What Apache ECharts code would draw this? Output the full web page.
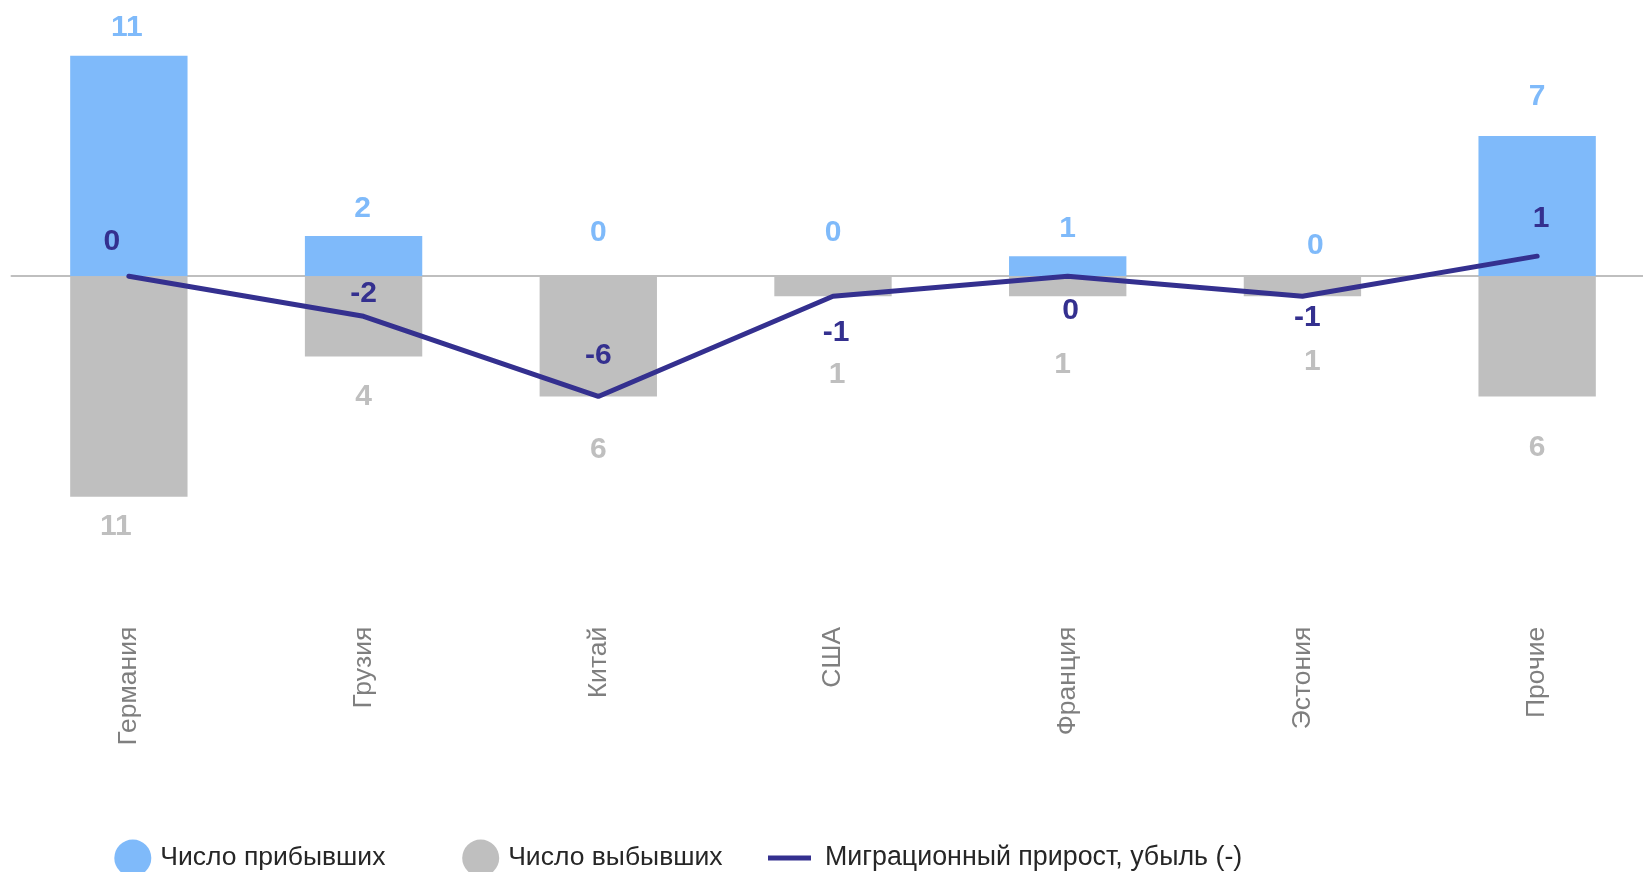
<!DOCTYPE html>
<html><head><meta charset="utf-8">
<script src="https://cdn.jsdelivr.net/npm/echarts@6/dist/echarts.min.js"></script>
<style>html,body{margin:0;padding:0;background:#fff}#c{width:1643px;height:872px}</style>
</head><body><div id="c"></div>
<script>
// ---- data ----
const categories = ['Германия','Грузия','Китай','США','Франция','Эстония','Прочие'];
const arrivals = [11, 2, 0, 0, 1, 0, 7];
const departures = [11, 4, 6, 1, 1, 1, 6];
const netMigration = [0, -2, -6, -1, 0, -1, 1];
const seriesNames = ['Число прибывших', 'Число выбывших', 'Миграционный прирост, убыль (-)'];

// ---- label placement (style only): [distance, dx] ----
const arrLabelPlace = [[13,-2],[12,-1],[28,0],[28,0],[12,0],[15,13],[24,0]];
const depLabelPlace = [[15,-13],[25,0],[38,0],[63,4],[53,-5],[50,10],[36,0]];
const netLabelPlace = [['top',18,-17],['top',7,0],['top',25,0],['bottom',20,3],['bottom',19,3],['bottom',5,5],['top',21,4]];

const FONT = '"Liberation Sans", Arial, sans-serif';
const BLUE = '#7fbafa', GRAY = '#bfbfbf', NAVY = '#34308f';

const chart = echarts.init(document.getElementById('c'), null, {renderer: 'canvas'});
const labelBase = {show: true, fontFamily: FONT, fontSize: 30, fontWeight: 'bold'};
const legendText = {fontFamily: FONT, fontSize: 26.5, color: '#262626', padding: [0,0,0,4]};
const legendText3 = Object.assign({}, legendText, {fontSize: 26.8, padding: [0,0,0,9]});

chart.setOption({
  animation: false,
  backgroundColor: '#ffffff',
  grid: {left: 11.5, right: -11.5, top: 55.7, bottom: 375.3, containLabel: false, outerBoundsMode: 'none'},
  xAxis: {
    type: 'category', data: categories,
    axisLine: {show: true, onZero: true, lineStyle: {color: GRAY, width: 2}},
    axisTick: {show: false},
    axisLabel: {rotate: 90, margin: 130, fontFamily: FONT, fontSize: 26.5, color: '#7f7f7f'}
  },
  yAxis: {type: 'value', min: -11, max: 11, show: false, splitLine: {show: false}},
  legend: [
    {data: [{name: seriesNames[0], icon: 'circle'}], left: 109.3, top: 834.5, itemWidth: 37, itemHeight: 37, textStyle: legendText},
    {data: [{name: seriesNames[1], icon: 'circle'}], left: 457.2, top: 834.5, itemWidth: 37, itemHeight: 37, textStyle: legendText},
    {data: [{name: seriesNames[2], icon: 'rect'}], left: 763, top: 839.5, itemWidth: 43, itemHeight: 5, textStyle: legendText3}
  ],
  series: [
    {
      name: seriesNames[0], type: 'bar', stack: 'mig', barWidth: '50%',
      itemStyle: {color: BLUE},
      data: arrivals.map((v, i) => ({
        value: v,
        label: Object.assign({}, labelBase, {position: 'top', distance: arrLabelPlace[i][0],
          offset: [arrLabelPlace[i][1], 0], color: BLUE, formatter: String(v)})
      }))
    },
    {
      name: seriesNames[1], type: 'bar', stack: 'mig', barWidth: '50%',
      itemStyle: {color: GRAY},
      data: departures.map((v, i) => ({
        value: -v,
        label: Object.assign({}, labelBase, {position: 'bottom', distance: depLabelPlace[i][0],
          offset: [depLabelPlace[i][1], 0], color: GRAY, formatter: String(v)})
      }))
    },
    {
      name: seriesNames[2], type: 'line', z: 5,
      symbol: 'circle', symbolSize: 2, showSymbol: true,
      itemStyle: {color: NAVY},
      lineStyle: {color: NAVY, width: 5, cap: 'round'},
      data: netMigration.map((v, i) => ({
        value: v,
        label: Object.assign({}, labelBase, {position: netLabelPlace[i][0], distance: netLabelPlace[i][1],
          offset: [netLabelPlace[i][2], 0], color: NAVY, formatter: String(v)})
      }))
    }
  ]
});
</script>
</body></html>
